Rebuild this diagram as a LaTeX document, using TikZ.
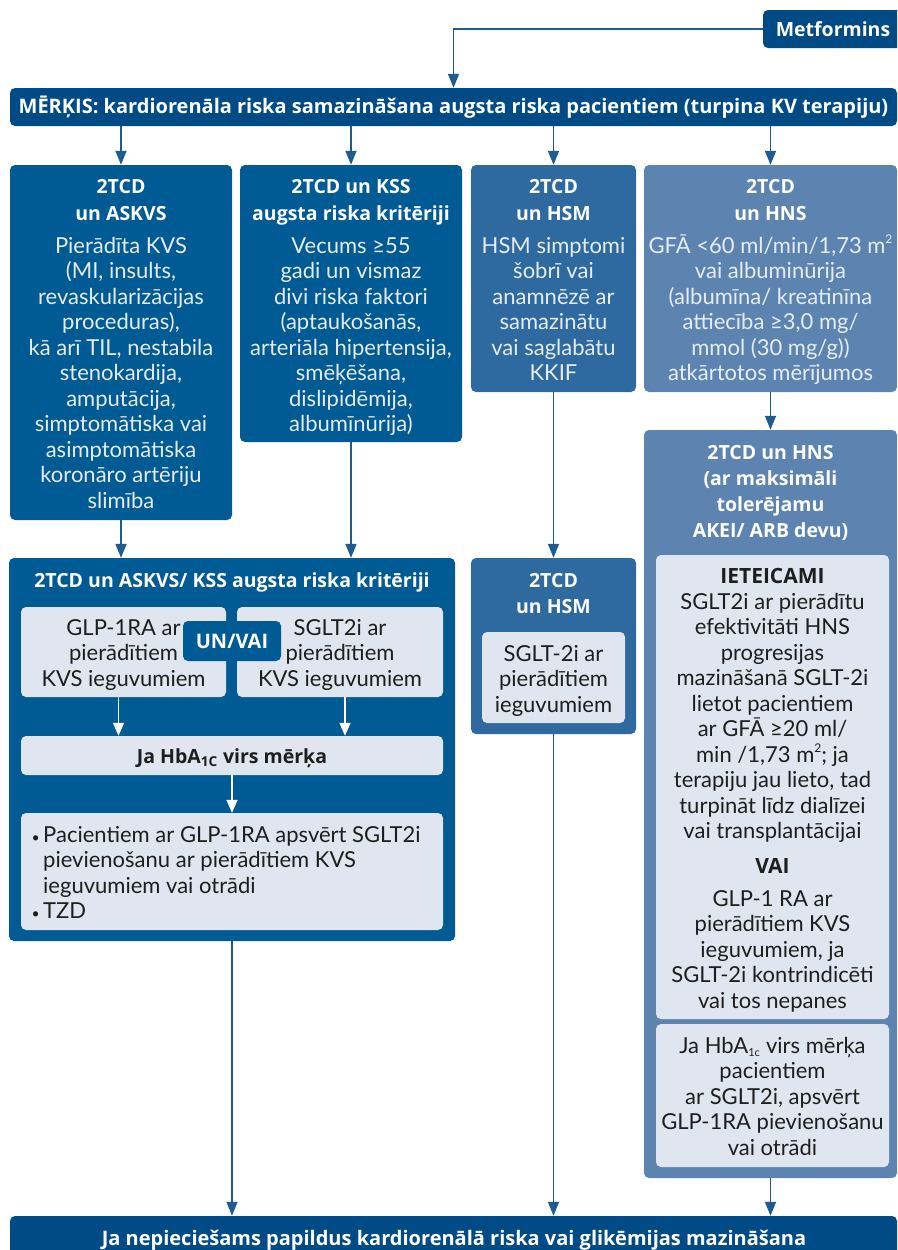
\documentclass[tikz,border=0pt]{standalone}
\usepackage{fontspec}
\setmainfont{Lato}
\newfontfamily\titelfont{Open Sans}
\usetikzlibrary{arrows.meta}

\definecolor{navy}{HTML}{004B85}
\definecolor{dunkel}{HTML}{005A94}
\definecolor{mittel}{HTML}{2E6AA0}
\definecolor{hell}{HTML}{5D84B1}
\definecolor{blass}{HTML}{DFE6F0}
\definecolor{pfeilblau}{HTML}{1F5A91}
\definecolor{schrift}{HTML}{1E1E1E}
\definecolor{weich}{HTML}{E6ECF4}

\newcommand{\hochzwei}{\raisebox{0.45em}{\fontsize{12}{12}\selectfont 2}}

\tikzset{
    kasten/.style={rectangle, rounded corners=5pt, inner sep=0pt, draw=none},
    pfeil/.style={-{Triangle[length=14pt,width=11pt]}, line width=1.5pt, draw=pfeilblau},
    wpfeil/.style={-{Triangle[length=13pt,width=11pt]}, line width=1.5pt, draw=white},
    fett/.style={font=\fontsize{19.5}{26.5}\selectfont\titelfont\bfseries},
    titel/.style={anchor=base, align=center, inner sep=0pt, text=white, fett},
    inhalt/.style={anchor=base, align=center, inner sep=0pt, text=weich, font=\fontsize{22}{25.5}\selectfont},
    dunkeltext/.style={anchor=base, align=center, inner sep=0pt, text=schrift, font=\fontsize{22}{25.5}\selectfont},
}

\begin{document}
\begin{tikzpicture}[x=1pt, y=-1pt]
    \useasboundingbox (0,0) rectangle (897,1250);
    \clip (0,0) rectangle (897,1250);

    % Start und Ziel
    \node[kasten, fill=navy, minimum width=140, minimum height=38, text=white, fett] (metf) at (833,29) {Metformins};
    \node[kasten, fill=navy, minimum width=887, minimum height=38, text=white, font=\fontsize{20}{24}\selectfont\titelfont\bfseries] (ziel) at (453.5,107) {MĒRĶIS: kardiorenāla riska samazināšana augsta riska pacientiem (turpina KV terapiju)};

    % Erste Reihe (Textanker = letzte Zeile)
    \node[kasten, fill=dunkel, minimum width=222, minimum height=355] (askvs) at (121,342.5) {};
    \node[kasten, fill=dunkel, minimum width=222, minimum height=277] (kss) at (351,303.5) {};
    \node[kasten, fill=mittel, minimum width=165, minimum height=227] (hsm) at (553.5,278.5) {};
    \node[kasten, fill=hell, minimum width=253, minimum height=227] (hns) at (770.5,278.5) {};

    \node[titel] (askvsT) at (121,220) {2TCD\\un ASKVS};
    \node[inhalt] (askvsB) at (121,508) {Pierādīta KVS\\(MI, insults,\\revaskularizācijas\\proceduras),\\kā arī TIL, nestabila\\stenokardija,\\amputācija,\\simptomātiska vai\\asimptomātiska\\koronāro artēriju\\slimība};
    \node[titel] (kssT) at (351,220) {2TCD un KSS\\augsta riska kritēriji};
    \node[inhalt] (kssB) at (351,431.5) {Vecums ≥55\\gadi un vismaz\\divi riska faktori\\(aptaukošanās,\\arteriāla hipertensija,\\smēķēšana,\\dislipidēmija,\\albumīnūrija)};
    \node[titel] (hsmT) at (553.5,220) {2TCD\\un HSM};
    \node[inhalt] (hsmB) at (553.5,380.5) {HSM simptomi\\šobrī vai\\anamnēzē ar\\samazinātu\\vai saglabātu\\KKIF};
    \node[titel] (hnsT) at (770.5,220) {2TCD\\un HNS};
    \node[inhalt] (hnsB) at (770.5,380.5) {GFĀ <60 ml/min/1,73 m\hochzwei\\vai albuminūrija\\(albumīna/ kreatinīna\\attiecība ≥3,0 mg/\\mmol (30 mg/g))\\atkārtotos mērījumos};

    % Kombinierter Kasten links
    \node[kasten, fill=dunkel, minimum width=446, minimum height=383] (kombi) at (232,749.5) {};
    \node[titel] (kombiT) at (232,587) {2TCD un ASKVS/ KSS augsta riska kritēriji};
    \node[kasten, fill=blass, minimum width=205, minimum height=90] (glp) at (123.5,652) {};
    \node[kasten, fill=blass, minimum width=206, minimum height=90] (sglt) at (340,652) {};
    \node[dunkeltext] (glpT) at (123.5,686) {GLP-1RA ar\\pierādītiem\\KVS ieguvumiem};
    \node[dunkeltext] (sgltT) at (340,686) {SGLT2i ar\\pierādītiem\\KVS ieguvumiem};
    \node[kasten, fill=dunkel, minimum width=98, minimum height=40, text=white, font=\fontsize{20}{24}\selectfont\titelfont\bfseries] (unvai) at (232,641) {UN/VAI};
    \node[kasten, fill=blass, minimum width=422, minimum height=39] (hba) at (232,755.5) {};
    \node[dunkeltext, fett] (hbaT) at (232,763) {Ja HbA\textsubscript{1C} virs mērķa};
    \node[kasten, fill=blass, minimum width=422, minimum height=117] (punkte) at (232,871.5) {};
    \node[dunkeltext, align=left, anchor=base west] (punkteT) at (43,918.5) {Pacientiem ar GLP-1RA apsvērt SGLT2i\\pievienošanu ar pierādītiem KVS\\ieguvumiem vai otrādi\\TZD};
    \foreach \y in {842,918.5}
        \node[dunkeltext, anchor=base east, font=\fontsize{14}{16}\selectfont] at (40,\y) {•};

    % HSM unten
    \node[kasten, fill=mittel, minimum width=165, minimum height=176] (hsmU) at (553.5,646) {};
    \node[titel] (hsmUT) at (553.5,613.5) {2TCD\\un HSM};
    \node[kasten, fill=blass, minimum width=143, minimum height=91] (hsmI) at (553.5,677.5) {};
    \node[dunkeltext] (hsmIT) at (553.5,712) {SGLT-2i ar\\pierādītiem\\ieguvumiem};

    % HNS unten
    \node[kasten, fill=hell, minimum width=253, minimum height=748] (hnsU) at (770.5,804) {};
    \node[titel, font=\fontsize{19.5}{26}\selectfont\titelfont\bfseries] (hnsUT) at (770.5,537) {2TCD un HNS\\(ar maksimāli\\tolerējamu\\AKEI/ ARB devu)};
    \node[kasten, fill=blass, minimum width=233, minimum height=464] (empf) at (772.5,787) {};
    \node[dunkeltext, font=\fontsize{21}{24}\selectfont\titelfont\bfseries] (empfK) at (772.5,583) {IETEICAMI};
    \node[dunkeltext] (empfT) at (772.5,838.5) {SGLT2i ar pierādītu\\efektivitāti HNS\\progresijas\\mazināšanā SGLT-2i\\lietot pacientiem\\ar GFĀ ≥20 ml/\\min /1,73 m\hochzwei; ja\\terapiju jau lieto, tad\\turpināt līdz dialīzei\\vai transplantācijai};
    \node[dunkeltext, font=\fontsize{21}{24}\selectfont\titelfont\bfseries] (vai) at (772.5,873) {VAI};
    \node[dunkeltext] (glpV) at (772.5,1008) {GLP-1 RA ar\\pierādītiem KVS\\ieguvumiem, ja\\SGLT-2i kontrindicēti\\vai tos nepanes};
    \node[kasten, fill=blass, minimum width=233, minimum height=143] (hba2) at (772.5,1095.5) {};
    \node[dunkeltext] (hba2T) at (772.5,1155) {Ja HbA\textsubscript{\fontsize{11}{11}\selectfont 1c} virs mērķa\\pacientiem\\ar SGLT2i, apsvērt\\GLP-1RA pievienošanu\\vai otrādi};

    % Abschluss
    \node[kasten, fill=navy, minimum width=887, minimum height=46] (final) at (453.5,1239) {};
    \node[titel, font=\fontsize{20}{24}\selectfont\titelfont\bfseries] (finalT) at (454,1245) {Ja nepieciešams papildus kardiorenālā riska vai glikēmijas mazināšana};

    % Pfeile
    \draw[pfeil] (metf.west) -| (ziel.north);
    \foreach \n in {askvs,kss,hsm,hns}
        \draw[pfeil] (ziel.south -| \n.north) -- (\n.north);
    \draw[pfeil] (askvs.south) -- (askvs.south |- kombi.north);
    \draw[pfeil] (kss.south) -- (kss.south |- kombi.north);
    \draw[pfeil] (hsm.south) -- (hsmU.north);
    \draw[pfeil] (hns.south) -- (hnsU.north);
    \draw[pfeil] (kombi.south) -- (kombi.south |- final.north);
    \draw[pfeil] (hsmU.south) -- (hsmU.south |- final.north);
    \draw[pfeil] (hnsU.south) -- (hnsU.south |- final.north);

    % Weisse Pfeile
    \coordinate (g1) at ([xshift=-5pt]glp.south);
    \coordinate (s1) at ([xshift=5pt]sglt.south);
    \draw[wpfeil] (g1) -- (g1 |- hba.north);
    \draw[wpfeil] (s1) -- (s1 |- hba.north);
    \draw[wpfeil] (hba.south) -- (punkte.north);
\end{tikzpicture}
\end{document}
